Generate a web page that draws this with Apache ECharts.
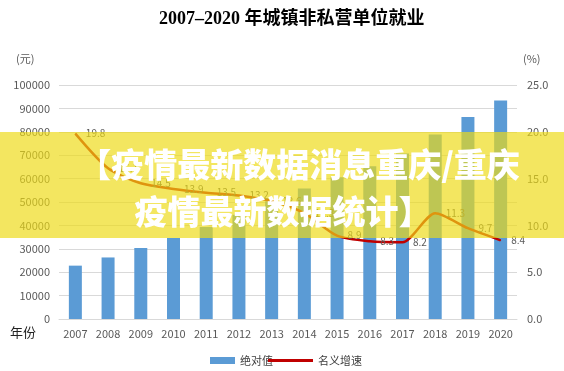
<!DOCTYPE html>
<html>
<head>
<meta charset="utf-8">
<script src="https://cdn.jsdelivr.net/npm/echarts@6/dist/echarts.min.js"></script>
<style>html,body{margin:0;padding:0;background:#fff}#c{width:564px;height:371px}</style>
</head>
<body>
<div id="c"></div>
<script>
const years = ['2007','2008','2009','2010','2011','2012','2013','2014','2015','2016','2017','2018','2019','2020'];
const absoluteValues = [22800, 26300, 30300, 34600, 39300, 44500, 50300, 55800, 60600, 65300, 70700, 78800, 86300, 93400];
const nominalGrowth = [19.8, 16.1, 14.5, 13.9, 13.5, 13.2, 12.6, 11.3, 8.9, 8.3, 8.2, 11.3, 9.7, 8.4];
const leftTicks = [0, 10000, 20000, 30000, 40000, 50000, 60000, 70000, 80000, 90000, 100000];
const rightTicks = [0, 5, 10, 15, 20, 25];
const titleText = '2007–2020 年城镇非私营单位就业';
const bannerLine1 = '【疫情最新数据消息重庆/重庆';
const bannerLine2 = '疫情最新数据统计】';

const chart = echarts.init(document.getElementById('c'), null, {renderer: 'canvas'});
const gray = '#595959';
const cjk = '"Noto Sans CJK SC", "Noto Sans", sans-serif';
chart.setOption({
  animation: false,
  backgroundColor: '#fff',
  title: {
    text: titleText,
    left: 154, top: 5,
    textStyle: {fontFamily: '"Liberation Serif", "Noto Sans CJK SC", serif', fontWeight: 'bold', fontSize: 18, color: '#000'}
  },
  grid: {left: 59, right: 47, top: 85, bottom: 52},
  legend: [{
    data: [{name: '绝对值', icon: 'rect'}],
    left: 205, top: 350, itemWidth: 25, itemHeight: 7, itemGap: 5,
    textStyle: {color: '#404040', fontSize: 11, fontFamily: cjk}
  }, {
    data: [{name: '名义增速', icon: 'path://M0,0 L45,0 L45,3 L0,3 Z'}],
    left: 263, top: 350, itemWidth: 45, itemHeight: 3,
    textStyle: {color: '#404040', fontSize: 11, fontFamily: cjk}
  }],
  xAxis: {
    type: 'category', data: years,
    axisLine: {lineStyle: {color: '#d9d9d9'}},
    axisTick: {show: false},
    axisLabel: {color: gray, fontSize: 11, margin: 9, fontFamily: cjk}
  },
  yAxis: [{
    type: 'value', min: leftTicks[0], max: leftTicks[leftTicks.length - 1], interval: leftTicks[1] - leftTicks[0],
    axisLine: {show: false}, axisTick: {show: false},
    splitLine: {lineStyle: {color: '#d9d9d9'}},
    axisLabel: {color: gray, fontSize: 11, margin: 9, fontFamily: cjk, formatter: v => String(v)}
  }, {
    type: 'value', min: rightTicks[0], max: rightTicks[rightTicks.length - 1], interval: rightTicks[1] - rightTicks[0],
    axisLine: {show: false}, axisTick: {show: false}, splitLine: {show: false},
    axisLabel: {color: gray, fontSize: 11, margin: 10, fontFamily: cjk, formatter: v => v.toFixed(1)}
  }],
  series: [{
    name: '绝对值', type: 'bar', data: absoluteValues, yAxisIndex: 0,
    barWidth: 13, itemStyle: {color: '#5B9BD5'}
  }, {
    name: '名义增速', type: 'line', data: nominalGrowth, yAxisIndex: 1,
    smooth: 0.25, symbol: 'circle', symbolSize: 1,
    lineStyle: {color: '#C00000', width: 2.5}, itemStyle: {color: '#C00000'},
    label: {show: true, position: 'right', distance: 10, color: gray, fontSize: 10, fontFamily: cjk, formatter: p => p.value.toFixed(1)}
  }],
  graphic: [
    {type: 'text', left: 16, top: 53, style: {text: '(元)', fill: gray, font: '11px ' + cjk}},
    {type: 'text', left: 523, top: 53, style: {text: '(%)', fill: gray, font: '11px ' + cjk}},
    {type: 'text', left: 10, top: 326, style: {text: '年份', fill: '#222', font: '13px ' + cjk}},
    {type: 'rect', z: 100, shape: {x: 0, y: 132, width: 564, height: 106}, style: {fill: 'rgba(238,218,20,0.68)'}},
    {type: 'text', z: 101, x: 299, y: 164, style: {text: bannerLine1, fill: '#fff', align: 'center', verticalAlign: 'middle', font: '900 33px "Noto Sans CJK SC"', shadowColor: 'rgba(0,0,0,0.25)', shadowBlur: 2, shadowOffsetX: 1, shadowOffsetY: 1}},
    {type: 'text', z: 101, x: 283, y: 211, style: {text: bannerLine2, fill: '#fff', align: 'center', verticalAlign: 'middle', font: '900 33px "Noto Sans CJK SC"', shadowColor: 'rgba(0,0,0,0.25)', shadowBlur: 2, shadowOffsetX: 1, shadowOffsetY: 1}}
  ]
});
</script>
</body>
</html>
